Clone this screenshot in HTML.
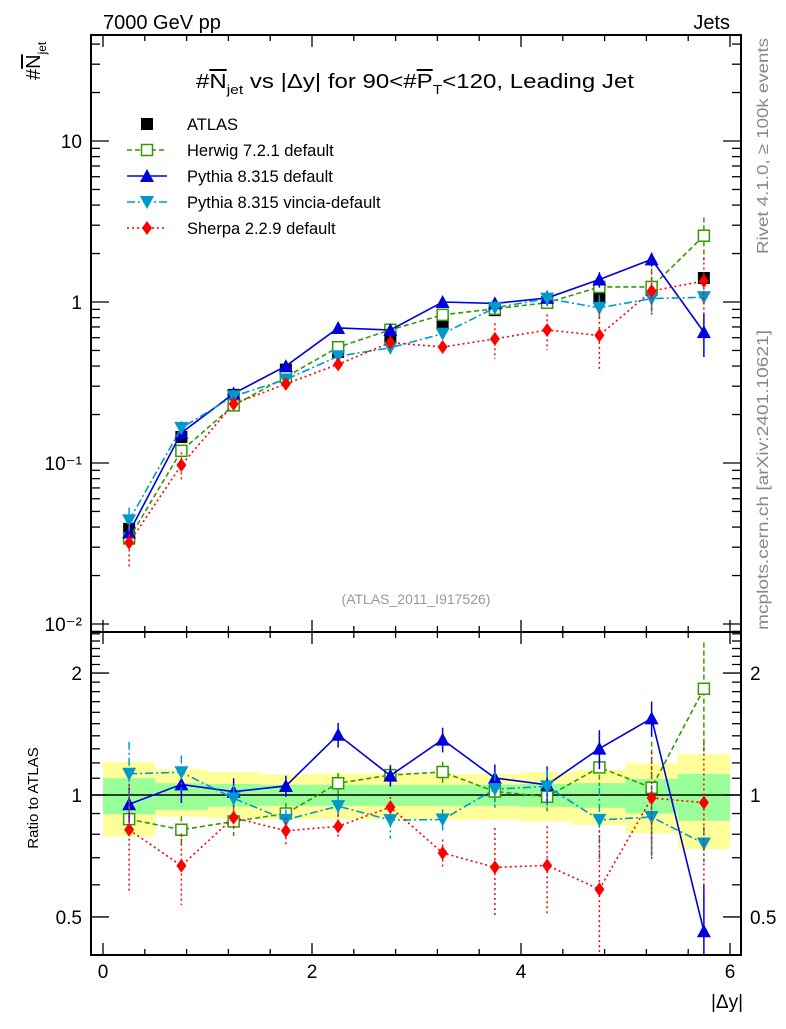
<!DOCTYPE html>
<html><head><meta charset="utf-8"><style>
body{margin:0;background:#fff;}
svg{font-family:"Liberation Sans","DejaVu Sans",sans-serif;}
</style></head><body>
<svg id="c" width="786" height="1024" viewBox="0 0 786 1024" xmlns="http://www.w3.org/2000/svg">
<text x="103" y="29" font-size="20">7000 GeV pp</text>
<text x="730" y="29" font-size="20" text-anchor="end">Jets</text>
<text x="196" y="88" font-size="20" textLength="438" lengthAdjust="spacingAndGlyphs">#<tspan text-decoration="overline">N</tspan><tspan font-size="13" dy="6">jet</tspan><tspan dy="-6"> vs |Δy| for 90&lt;#</tspan><tspan text-decoration="overline">P</tspan><tspan font-size="13" dy="6">T</tspan><tspan dy="-6">&lt;120, Leading Jet</tspan></text>
<text transform="translate(40,80) rotate(-90)" font-size="20">#<tspan text-decoration="overline">N</tspan><tspan font-size="12" dy="6">jet</tspan></text>
<text transform="translate(768,254) rotate(-90)" font-size="16" fill="#888" textLength="216" lengthAdjust="spacingAndGlyphs">Rivet 4.1.0, ≥ 100k events</text>
<text transform="translate(768,630) rotate(-90)" font-size="16" fill="#888" textLength="300" lengthAdjust="spacingAndGlyphs">mcplots.cern.ch [arXiv:2401.10621]</text>
<text x="416" y="604" font-size="14" fill="#999" text-anchor="middle">(ATLAS_2011_I917526)</text>
<text transform="translate(38,798) rotate(-90)" font-size="15" text-anchor="middle">Ratio to ATLAS</text>
<text x="743" y="1008" font-size="19" text-anchor="end">|Δy|</text>
<g id="plot"></g>
</svg>
<script>
const xCenters=[0.25,0.75,1.25,1.75,2.25,2.75,3.25,3.75,4.25,4.75,5.25,5.75];
const atlasVals=[0.039,0.145,0.265,0.38,0.49,0.60,0.73,0.89,1.0,1.06,1.19,1.41];
const atlasErr=[0.05,0.04,0.04,0.04,0.04,0.04,0.04,0.04,0.04,0.05,0.05,0.06];
const herwigVals=[0.034,0.119,0.228,0.342,0.524,0.672,0.832,0.908,0.99,1.24,1.24,2.58];
const herwigErr=[0.08,0.08,0.08,0.06,0.06,0.06,0.06,0.06,0.08,0.1,0.3,0.3];
const pythiaVals=[0.037,0.154,0.27,0.40,0.69,0.67,1.0,0.98,1.06,1.38,1.84,0.65];
const pythiaErr=[0.1,0.1,0.08,0.06,0.07,0.06,0.07,0.08,0.11,0.11,0.1,0.3];
const vinciaVals=[0.044,0.165,0.26,0.33,0.46,0.52,0.635,0.92,1.05,0.92,1.05,1.07];
const vinciaErr=[0.2,0.1,0.08,0.06,0.06,0.1,0.06,0.1,0.1,0.2,0.2,0.1];
const sherpaVals=[0.032,0.097,0.233,0.31,0.41,0.56,0.525,0.59,0.67,0.62,1.17,1.35];
const sherpaErr=[0.3,0.2,0.07,0.08,0.07,0.06,0.08,0.25,0.25,0.4,0.3,0.4];
const bandTotUp=[1.205,1.157,1.138,1.125,1.131,1.131,1.127,1.127,1.138,1.153,1.197,1.262];
const bandTotDn=[0.789,0.884,0.876,0.871,0.871,0.871,0.868,0.868,0.859,0.843,0.804,0.735];
const bandStatUp=[1.10,1.069,1.065,1.06,1.06,1.06,1.06,1.06,1.065,1.07,1.095,1.127];
const bandStatDn=[0.896,0.918,0.936,0.94,0.94,0.94,0.94,0.94,0.935,0.93,0.90,0.864];
const xTicks=[0,2,4,6];
const mainTicks=[0.01,0.1,1,10];
const mainTickLabels=["10⁻²","10⁻¹","1","10"];
const ratioTicks=[0.5,1,2];
const ratioTickLabels=["0.5","1","2"];

const NS="http://www.w3.org/2000/svg";
const g=document.getElementById('plot');
const L=91,R=741,T=35,MB=632,RB=955;
const X=v=>103+104.5*v;
const Y=v=>302-161*Math.log10(v);
const YR=v=>795-405*Math.log10(v);
function el(t,a,p){const e=document.createElementNS(NS,t);for(const k in a)e.setAttribute(k,a[k]);(p||g).appendChild(e);return e;}

for(let i=0;i<xCenters.length;i++){
  const x0=X(xCenters[i]-0.25),x1=X(xCenters[i]+0.25);
  const b=el('rect',{x:x0,y:YR(bandTotUp[i]),width:x1-x0,height:YR(bandTotDn[i])-YR(bandTotUp[i]),fill:'#ffff99'});
  
  
  const s=el('rect',{x:x0,y:YR(bandStatUp[i]),width:x1-x0,height:YR(bandStatDn[i])-YR(bandStatUp[i]),fill:'#99ff99'});
  
  
}
el('line',{x1:L,x2:R,y1:YR(1),y2:YR(1),stroke:'#000','stroke-width':1.5});

const f1=el('rect',{x:L,y:T,width:R-L,height:MB-T,fill:'none',stroke:'#000','stroke-width':2});


const f2=el('rect',{x:L,y:MB,width:R-L,height:RB-MB,fill:'none',stroke:'#000','stroke-width':2});



for(let v=0;v<=6.01;v+=0.4){
  const maj=xTicks.some(t=>Math.abs(t-v)<1e-6);const l=maj?12:6;
  el('line',{x1:X(v),x2:X(v),y1:MB,y2:MB-l,stroke:'#000','stroke-width':1.3});
  el('line',{x1:X(v),x2:X(v),y1:MB,y2:MB+l,stroke:'#000','stroke-width':1.3});
  el('line',{x1:X(v),x2:X(v),y1:RB,y2:RB-l,stroke:'#000','stroke-width':1.3});
  el('line',{x1:X(v),x2:X(v),y1:T,y2:T+l,stroke:'#000','stroke-width':1.3});
}
xTicks.forEach(v=>{const t=el('text',{x:X(v),y:978,'font-size':19,'text-anchor':'middle'});t.textContent=v;

});

for(let d=-3;d<=1;d++)for(let m=1;m<=9;m++){const v=m*Math.pow(10,d);const y=Y(v);if(y<T||y>MB)continue;
  const l=m==1?18:9;
  el('line',{x1:L,x2:L+l,y1:y,y2:y,stroke:'#000','stroke-width':1.3});
  el('line',{x1:R,x2:R-l,y1:y,y2:y,stroke:'#000','stroke-width':1.3});}
mainTicks.forEach((v,i)=>{const t=el('text',{x:82,y:Y(v)+7,'font-size':19,'text-anchor':'end'});t.textContent=mainTickLabels[i];

});
for(let k=4;k<=25;k++){const v=k/10;const y=YR(v);if(y<MB||y>RB)continue;
  const maj=ratioTicks.some(t=>Math.abs(t-v)<1e-6);const l=maj?18:9;
  el('line',{x1:L,x2:L+l,y1:y,y2:y,stroke:'#000','stroke-width':1.3});
  el('line',{x1:R,x2:R-l,y1:y,y2:y,stroke:'#000','stroke-width':1.3});}
ratioTicks.forEach((v,i)=>{const t=el('text',{x:82,y:YR(v)+7,'font-size':19,'text-anchor':'end'});t.textContent=ratioTickLabels[i];


const t2=el('text',{x:750,y:YR(v)+7,'font-size':19});t2.textContent=ratioTickLabels[i];

});

function marker(type,x,y,color,par){
  if(type=='sq')return el('rect',{x:x-6,y:y-6,width:12,height:12,fill:'#000'},par);
  if(type=='osq')return el('rect',{x:x-5.5,y:y-5.5,width:11,height:11,fill:'#fff',stroke:color,'stroke-width':1.5},par);
  if(type=='tu')return el('polygon',{points:`${x},${y-7} ${x-7},${y+6} ${x+7},${y+6}`,fill:color},par);
  if(type=='td')return el('polygon',{points:`${x},${y+7} ${x-7},${y-6} ${x+7},${y-6}`,fill:color},par);
  if(type=='di')return el('polygon',{points:`${x},${y-7} ${x-5},${y} ${x},${y+7} ${x+5},${y}`,fill:color},par);
}
const series=[
 {name:'herwig',vals:herwigVals,err:herwigErr,color:'#339900',dash:'5,3',m:'osq'},
 {name:'pythia',vals:pythiaVals,err:pythiaErr,color:'#0000dd',dash:'',m:'tu'},
 {name:'vincia',vals:vinciaVals,err:vinciaErr,color:'#0099cc',dash:'8,3,2,3',m:'td'},
 {name:'sherpa',vals:sherpaVals,err:sherpaErr,color:'#ff0000',dash:'2,3',m:'di'}];

atlasVals.forEach((v,i)=>{const x=X(xCenters[i]);
  el('line',{x1:x,x2:x,y1:Y(v*(1+atlasErr[i])),y2:Y(v*(1-atlasErr[i])),stroke:'#000','stroke-width':1.5});
  const m=marker('sq',x,Y(v));
  
  });

series.forEach(s=>{
  const gm=el('g',{});
  
  
  const pts=s.vals.map((v,i)=>X(xCenters[i])+','+Y(v)).join(' ');
  el('polyline',{points:pts,fill:'none',stroke:s.color,'stroke-width':1.6,'stroke-dasharray':s.dash},gm);
  const rpts=s.vals.map((v,i)=>X(xCenters[i])+','+YR(v/atlasVals[i])).join(' ');
  el('polyline',{points:rpts,fill:'none',stroke:s.color,'stroke-width':1.6,'stroke-dasharray':s.dash},gm);
  s.vals.forEach((v,i)=>{const x=X(xCenters[i]);const r=v/atlasVals[i];
    el('line',{x1:x,x2:x,y1:Y(v*(1+s.err[i])),y2:Y(v*(1-s.err[i])),stroke:s.color,'stroke-width':1.5,'stroke-dasharray':s.dash},gm);
    el('line',{x1:x,x2:x,y1:Math.max(MB,YR(r*(1+s.err[i]))),y2:Math.min(RB,YR(r*(1-s.err[i]))),stroke:s.color,'stroke-width':1.5,'stroke-dasharray':s.dash},gm);
    const m1=marker(s.m,x,Y(v),s.color,gm);
    
    
    const m2=marker(s.m,x,YR(r),s.color,gm);
    
    
  });
});

const leg=[['ATLAS','sq','#000',null],['Herwig 7.2.1 default','osq','#339900','5,3'],['Pythia 8.315 default','tu','#0000dd',''],['Pythia 8.315 vincia-default','td','#0099cc','8,3,2,3'],['Sherpa 2.2.9 default','di','#ff0000','2,3']];
leg.forEach((e,i)=>{const y=124+26*i;const gl=el('g',{});
  
  
  if(e[3]!==null)el('line',{x1:127,x2:167,y1:y,y2:y,stroke:e[2],'stroke-width':1.6,'stroke-dasharray':e[3]},gl);
  marker(e[1],147,y,e[2],gl);
  const t=el('text',{x:187,y:y+6,'font-size':16.5},gl);t.textContent=e[0];});
</script>
</body></html>
